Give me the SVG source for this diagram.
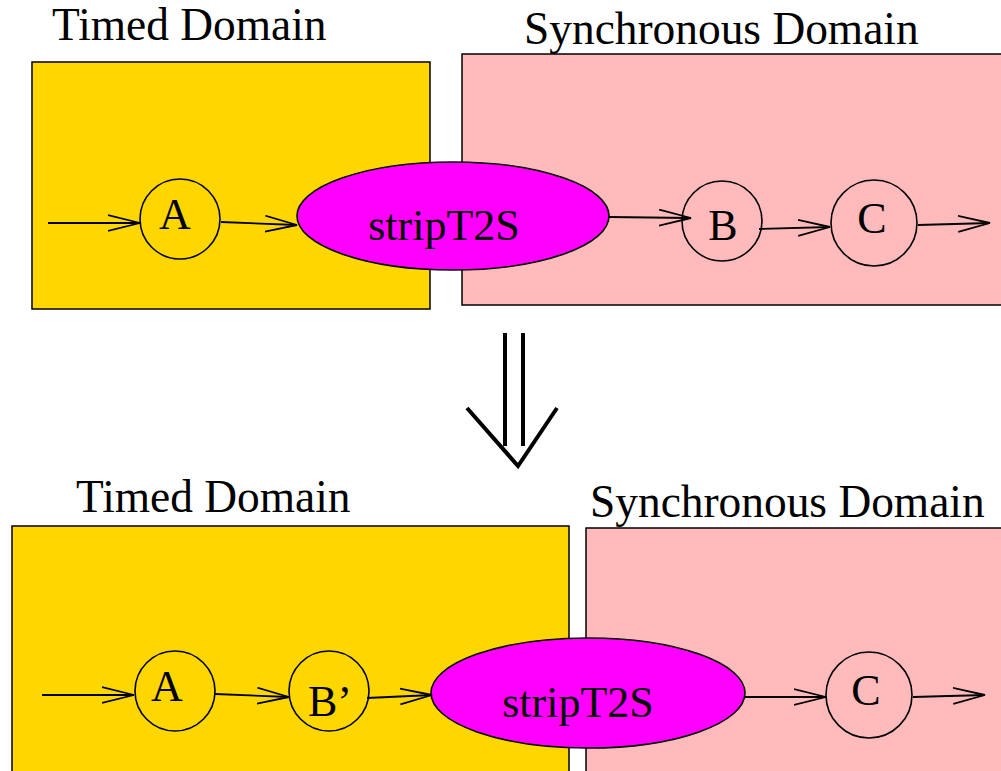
<svg xmlns="http://www.w3.org/2000/svg" width="1001" height="771" viewBox="0 0 1001 771">
<style>
text{font-family:"Liberation Serif","Times New Roman",serif;font-size:44px;fill:#000}
.title{font-size:45.4px}
.lbl{text-anchor:middle}
.timed{fill:#FFD700;stroke:#000;stroke-width:1.5}
.sync{fill:#FFBBBB;stroke:#000;stroke-width:1.5}
.node{fill:none;stroke:#000;stroke-width:1.6}
.proc{fill:#FF00FF;stroke:#000;stroke-width:1.6}
.edge{fill:none;stroke:#000;stroke-width:1.8;marker-end:url(#oa)}
</style>
<defs>
<marker id="oa" markerUnits="userSpaceOnUse" markerWidth="40" markerHeight="20" refX="32" refY="9" orient="auto" viewBox="0 0 40 20">
<path d="M0,1 L32,9 L0,17" fill="none" stroke="#000" stroke-width="1.8"/>
</marker>
</defs>
<g id="top-timed-domain"><rect class="timed" x="32" y="62" width="398" height="247"/><text class="title" x="52" y="40">Timed Domain</text></g>
<g id="top-sync-domain"><rect class="sync" x="462" y="54" width="545" height="251"/><text class="title" x="524" y="44">Synchronous Domain</text></g>
<g id="top-A"><circle class="node" cx="180" cy="219" r="40"/><text class="lbl" x="175" y="229">A</text></g>
<g id="top-strip"><ellipse class="proc" cx="453" cy="216" rx="156" ry="54"/><text class="lbl" x="444" y="240">stripT2S</text></g>
<g id="top-B"><circle class="node" cx="722" cy="221" r="40"/><text class="lbl" x="723" y="240">B</text></g>
<g id="top-C"><circle class="node" cx="874" cy="223" r="43"/><text class="lbl" x="872" y="233">C</text></g>
<g id="bottom-timed-domain"><rect class="timed" x="12" y="526" width="557" height="250"/><text class="title" x="76" y="512">Timed Domain</text></g>
<g id="bottom-sync-domain"><rect class="sync" x="586" y="528" width="420" height="248"/><text class="title" x="590" y="517">Synchronous Domain</text></g>
<g id="bottom-A"><circle class="node" cx="175" cy="691" r="40"/><text class="lbl" x="167" y="701">A</text></g>
<g id="bottom-Bp"><circle class="node" cx="329" cy="691" r="40"/><text class="lbl" x="330" y="716">B’</text></g>
<g id="bottom-strip"><ellipse class="proc" cx="588" cy="693" rx="157" ry="55"/><text class="lbl" x="578" y="717">stripT2S</text></g>
<g id="bottom-C"><circle class="node" cx="869" cy="695" r="43"/><text class="lbl" x="866" y="705">C</text></g>
<g id="connectors">
<path class="edge" d="M48,223 L140,223"/>
<path class="edge" d="M221,222 L297,225"/>
<path class="edge" d="M609,217 L691,218"/>
<path class="edge" d="M759,229 L830,227"/>
<path class="edge" d="M918,225 L990,223"/>
<path class="edge" d="M42,695 L134,695"/>
<path class="edge" d="M215,694 L289,697"/>
<path class="edge" d="M367,698 L432,695"/>
<path class="edge" d="M744,697 L826,697"/>
<path class="edge" d="M913,697 L985,695"/>
<g fill="none" stroke="#000" stroke-width="4">
<path d="M505,333 V446 M523,333 V446"/>
<path d="M467,408 L518,466 L557,408"/>
</g>
</g>
</svg>
